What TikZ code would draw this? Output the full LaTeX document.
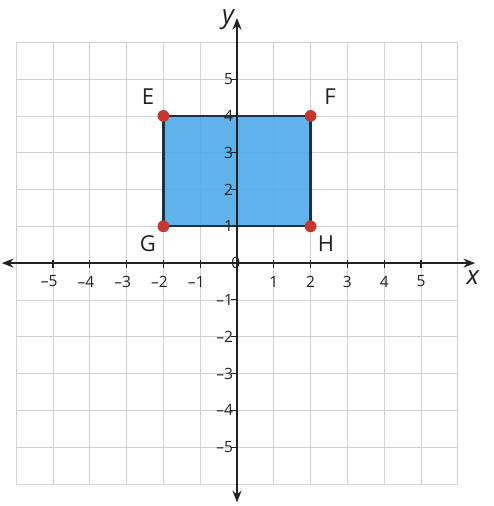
\documentclass[tikz,border=0pt]{standalone}
\usepackage{fontspec}
\setmainfont{Open Sans}
\usetikzlibrary{arrows.meta}
\definecolor{rectfill}{HTML}{4AA8E8}
\definecolor{rectedge}{HTML}{1A3048}
\definecolor{dotred}{HTML}{C8372C}
\definecolor{axiscol}{HTML}{222222}
\definecolor{gridcol}{HTML}{D2D2D2}
\begin{document}
\begin{tikzpicture}[x=1cm,y=1cm,
  gridline/.style={draw=gridcol, line width=0.6pt},
  axisline/.style={draw=axiscol, line width=1.2pt, {Stealth[length=9pt,width=7pt]}-{Stealth[length=9pt,width=7pt]}},
  tickmark/.style={draw=axiscol, line width=0.9pt},
  ticklab/.style={font=\fontsize{12}{14}\selectfont, text=axiscol, inner sep=0pt},
  ptlab/.style={font=\fontsize{17}{20}\selectfont, text=axiscol, inner sep=0pt},
  axlab/.style={font=\fontsize{20}{24}\selectfont\itshape, text=axiscol, inner sep=0pt},
  ptdot/.style={circle, fill=dotred, minimum size=0.32cm, inner sep=0pt}
]
\useasboundingbox (-6.44,-6.6) rectangle (6.96,7.15);
\fill[white] (-6.44,-6.6) rectangle (6.96,7.15);
% grid
\draw[gridline] (-6,-6) grid (6,6);
% rectangle
\coordinate (e) at (-2,4);
\coordinate (f) at (2,4);
\coordinate (h) at (2,1);
\coordinate (g) at (-2,1);
\fill[rectfill, fill opacity=0.88] (e) -- (f) -- (h) -- (g) -- cycle;
\draw[rectedge, line width=1.8pt, line join=round] (e) -- (f) -- (h) -- (g) -- cycle;
% axes
\coordinate (xl) at (-6.39,0);
\coordinate (xr) at (6.47,0);
\coordinate (yb) at (0,-6.5);
\coordinate (yt) at (0,6.66);
\draw[axisline] (xl) -- (xr);
\draw[axisline] (yb) -- (yt);
% ticks and labels
\foreach \k in {1,...,5} {
  \draw[tickmark] (\k,-0.12) -- (\k,0.08);
  \draw[tickmark] (-\k,-0.12) -- (-\k,0.08);
  \draw[tickmark] (-0.15,\k) -- (0.04,\k);
  \draw[tickmark] (-0.15,-\k) -- (0.04,-\k);
  \node[ticklab] (xp\k) at (\k,-0.5) {\k};
  \node[ticklab] (xn\k) at (-\k,-0.5) {\llap{–}\k};
  \node[ticklab, anchor=east] (yp\k) at (-0.1,\k) {\k};
  \node[ticklab, anchor=east] (yn\k) at (-0.1,-\k) {–\k};
}
\node[ticklab] (zero) at (-0.03,0) {0};
% axis labels
\node[axlab] (ylab) at (-0.24,6.62) {y};
\node[axlab] (xlab) at (6.41,-0.4) {x};
% points
\node[ptdot] (E) at (e) {};
\node[ptdot] (F) at (f) {};
\node[ptdot] (G) at (g) {};
\node[ptdot] (H) at (h) {};
\node[ptlab] (Elab) at (-2.42,4.51) {E};
\node[ptlab] (Flab) at (2.53,4.51) {F};
\node[ptlab] (Glab) at (-2.42,0.54) {G};
\node[ptlab] (Hlab) at (2.42,0.52) {H};
\end{tikzpicture}
\end{document}
